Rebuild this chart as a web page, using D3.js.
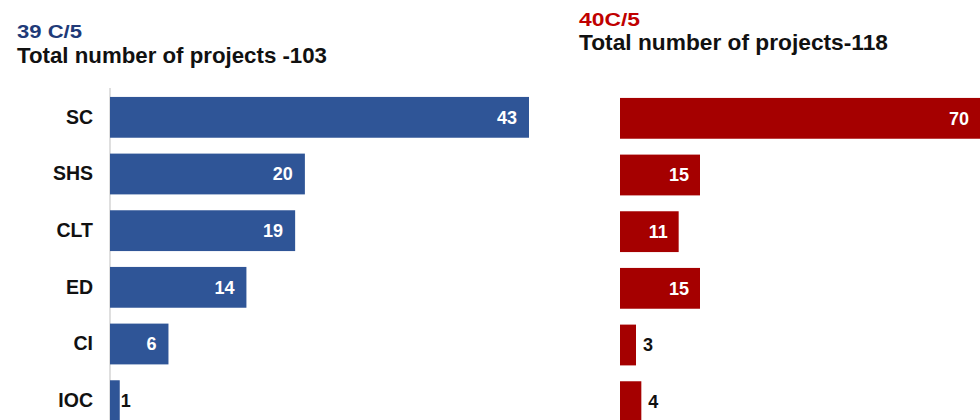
<!DOCTYPE html>
<html>
<head>
<meta charset="utf-8">
<script src="https://cdn.jsdelivr.net/npm/d3@7"></script>
<style>
  body { margin: 0; background: #fff; }
  svg { display: block; font-family: "Liberation Sans", Arial, sans-serif; }
</style>
</head>
<body>
<svg></svg>
<script>
const w = 980;
const h = 420;

// data
const categories = ['SC', 'SHS', 'CLT', 'ED', 'CI', 'IOC'];
const values39 = [43, 20, 19, 14, 6, 1];
const values40 = [70, 15, 11, 15, 3, 4];
const title39 = '39 C/5';
const sub39 = 'Total number of projects -103';
const title40 = '40C/5';
const sub40 = 'Total number of projects-118';

const svg = d3.select('svg').attr('width', w).attr('height', h);

// titles (the source font is a bit wider, so stretch to the measured widths)
function title(x, y, size, color, len, txt) {
    svg.append('text').attr('x', x).attr('y', y)
        .attr('font-size', size).attr('font-weight', 'bold').attr('fill', color)
        .attr('textLength', len).attr('lengthAdjust', 'spacingAndGlyphs')
        .text(txt);
}
title(17, 37.5, 19, '#203A78', 65, title39);
title(17, 63, 21.5, '#111', 310, sub39);
title(579, 26, 19, '#C00000', 61, title40);
title(579, 50, 21.5, '#111', 309, sub40);

function drawPanel(values, opts) {
    const xScale = d3.scaleLinear().domain([0, opts.max]).range([opts.x0, opts.x1]);
    const yScale = d3.scaleBand().domain(categories)
        .range([opts.y0, opts.y0 + 340])
        .paddingInner(0.28).paddingOuter(0.14);

    const g = svg.append('g');

    if (opts.axis) {
        const yAxis = d3.axisLeft(yScale).tickSize(0).tickPadding(17);
        const ax = g.append('g')
            .attr('transform', 'translate(' + opts.x0 + ',0)')
            .call(yAxis);
        ax.select('.domain').attr('stroke', '#d4d4d4').attr('stroke-width', 1.5)
            .attr('d', 'M0,88V420');
        ax.selectAll('text')
            .attr('font-size', 19.5).attr('font-weight', 'bold')
            .attr('fill', '#111').attr('font-family', 'Liberation Sans, Arial, sans-serif');
    }

    const rows = values.map((v, i) => ({ cat: categories[i], v: v }));

    g.selectAll('rect')
        .data(rows)
        .enter()
        .append('rect')
        .attr('x', xScale(0))
        .attr('y', (d) => yScale(d.cat))
        .attr('width', (d) => xScale(d.v) - xScale(0))
        .attr('height', yScale.bandwidth())
        .attr('fill', opts.color);

    g.selectAll('text.val')
        .data(rows)
        .enter()
        .append('text')
        .attr('class', 'val')
        .attr('font-size', 18).attr('font-weight', 'bold')
        .attr('dy', '0.36em')
        .attr('y', (d) => yScale(d.cat) + yScale.bandwidth() / 2)
        .attr('x', (d) => {
            const end = Math.min(xScale(d.v), w);
            return d.v >= opts.inside ? end - opts.pad : xScale(d.v) + opts.outPad;
        })
        .attr('text-anchor', (d) => (d.v >= opts.inside ? 'end' : 'start'))
        .attr('fill', (d) => (d.v >= opts.inside ? '#fff' : '#111'))
        .text((d) => d.v);
}

drawPanel(values39, {
    max: 43, x0: 110, x1: 529, y0: 89, color: '#2F5597',
    axis: true, inside: 5, pad: 12, outPad: 1
});
drawPanel(values40, {
    max: 15, x0: 620, x1: 700, y0: 90, color: '#A50000',
    axis: false, inside: 5, pad: 11, outPad: 7
});
</script>
</body>
</html>
